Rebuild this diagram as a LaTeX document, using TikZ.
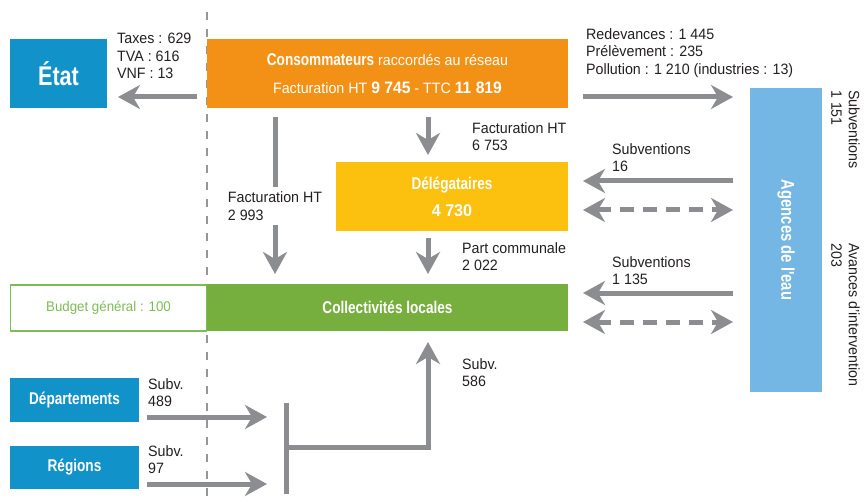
\documentclass[tikz,border=0pt]{standalone}
\usepackage{fontspec}
\usepackage{graphicx}
\usepackage{tikz}
\usetikzlibrary{arrows.meta,calc}
\setmainfont{Liberation Sans}[FakeStretch=0.95]
\newfontfamily\condFamily{Liberation Sans}[FakeStretch=0.8]
\newcommand{\labelFont}[0]{\fontsize{15}{17.5}\selectfont}
\newcommand{\titleFont}[0]{\condFamily\bfseries\fontsize{17}{27}\selectfont}
\newcommand{\bigWord}[1]{{\condFamily\bfseries\fontsize{17}{27}\selectfont #1}}
\newcommand{\bigNum}[2][16.5]{{\normalfont\bfseries\fontsize{#1}{27}\selectfont #2}}
\definecolor{etatBlue}{RGB}{17,146,201}
\definecolor{consoOrange}{RGB}{243,145,22}
\definecolor{delegYellow}{RGB}{252,192,14}
\definecolor{collGreen}{RGB}{118,175,62}
\definecolor{budgetGreen}{RGB}{125,188,85}
\definecolor{agenceBlue}{RGB}{116,183,228}
\definecolor{flowGray}{RGB}{140,141,145}
\definecolor{rulerGray}{RGB}{150,150,150}
\definecolor{labelGray}{RGB}{35,31,32}

\begin{document}
\begin{tikzpicture}[x=1pt, y=-1pt]
  \tikzset{
    box/.style={inner sep=0pt, outer sep=0pt, text=white, align=center, font=\titleFont},
    lbl/.style={inner sep=0pt, anchor=north west, align=left, font=\labelFont, text=labelGray},
    >={Stealth[length=22pt,width=24pt,inset=7pt]},
    flow/.style={draw=flowGray, line width=5pt, ->},
    backflow/.style={draw=flowGray, line width=5pt, <->, dash pattern=on 14pt off 9pt},
    bar/.style={draw=flowGray, line width=5pt}
  }
  \useasboundingbox (0,0) rectangle (866,502);
  \draw[rulerGray, line width=1.3pt, dash pattern=on 8pt off 9pt] (207,12) -- (207,502);

  % boxes
  \node[box, fill=etatBlue, minimum width=97pt, minimum height=69pt,
    font=\condFamily\bfseries\fontsize{27}{27}\selectfont] (etat) at (58.5,73.5) {État};
  \node[box, fill=consoOrange, minimum width=361pt, minimum height=69pt, font=\labelFont\setlength{\baselineskip}{28pt}] (conso) at (387.5,73.5)
    {\bigWord{Consommateurs} raccordés au réseau\\Facturation HT \bigNum{9 745} - TTC \bigNum{11 819}};
  \node[box, fill=delegYellow, minimum width=232pt, minimum height=69pt] (deleg) at (452,196.5) {Délégataires\\\bigNum[17]{4 730}};
  \node[box, fill=collGreen, minimum width=361pt, minimum height=47pt] (coll) at (387.5,307.5) {Collectivités locales};
  \node[box, draw=budgetGreen, line width=1.5pt, fill=white, minimum width=196pt, minimum height=46pt,
    text=budgetGreen, font=\fontsize{14}{16}\selectfont] (budget) at (108.5,308) {Budget général : 100};
  \node[box, fill=agenceBlue, minimum width=72pt, minimum height=304pt,
    font=\condFamily\bfseries\fontsize{18.5}{20}\selectfont] (agences) at (786,240) {\rotatebox{-90}{Agences de l'eau}};
  \node[box, fill=etatBlue, minimum width=129pt, minimum height=44pt] (dep) at (74.5,400) {Départements};
  \node[box, fill=etatBlue, minimum width=129pt, minimum height=43pt] (reg) at (74.5,467.5) {Régions};
  \coordinate (joint) at (286,447);

  % flows
  \draw[flow] ($(conso.south west)+(-10,-11)$) -- ($(etat.south east)+(11,-11)$);
  \draw[flow] ($(conso.south east)+(15,-11)$) -- ($(agences.north west)+(-17,9)$);
  \draw[flow] ($(conso.south east)+(-140,9)$) -- ($(deleg.north west)+(92,-7)$);
  \draw[flow] ($(conso.south west)+(68,9)$) --
    node[lbl, anchor=center, fill=white, inner ysep=5pt, pos=0.567] {Facturation HT\\2 993} ($(coll.north west)+(68,-10)$);
  \draw[flow] ($(deleg.south west)+(92,7)$) -- ($(coll.north west)+(221,-10)$);
  \draw[flow] ($(agences.north west)+(-17,93)$) -- ($(deleg.east)+(15,-15.5)$);
  \draw[backflow] ($(deleg.east)+(15,13.5)$) -- ($(agences.north west)+(-17,122)$);
  \draw[flow] ($(agences.north west)+(-17,205)$) -- ($(coll.east)+(15,-14.5)$);
  \draw[backflow] ($(coll.east)+(15,14.5)$) -- ($(agences.north west)+(-17,234)$);
  \draw[flow] ($(dep.east)+(8,17)$) -- ($(joint)+(-19,-30)$);
  \draw[flow] ($(reg.east)+(8,16.5)$) -- ($(joint)+(-19,37)$);
  \draw[bar] ($(joint)+(0,-44)$) -- ($(joint)+(0,47)$);
  \draw[flow] (joint) -| ($(coll.south west)+(221,11)$);

  % labels
  \node[lbl] (taxes) at (117,33) {Taxes : 629\\TVA : 616\\VNF : 13};
  \node[lbl] (redev) at (586,28) {Redevances : 1 445\\Prélèvement : 235\\Pollution : 1 210 (industries : 13)};
  \node[lbl] (fact) at (472,122) {Facturation HT\\6 753};
  \node[lbl] (part) at (462,242) {Part communale\\2 022};
  \node[lbl] (subA) at (612,143) {Subventions\\16};
  \node[lbl] (subB) at (612,256) {Subventions\\1 135};
  \node[lbl] (subDep) at (148,378) {Subv.\\489};
  \node[lbl] (subReg) at (148,445) {Subv.\\97};
  \node[lbl] (subColl) at (462,358) {Subv.\\586};
  \node[lbl, rotate=-90] (subAg) at (860,90) {Subventions\\1 151};
  \node[lbl, rotate=-90] (avances) at (860,243) {Avances d'intervention\\203};
\end{tikzpicture}
\end{document}
